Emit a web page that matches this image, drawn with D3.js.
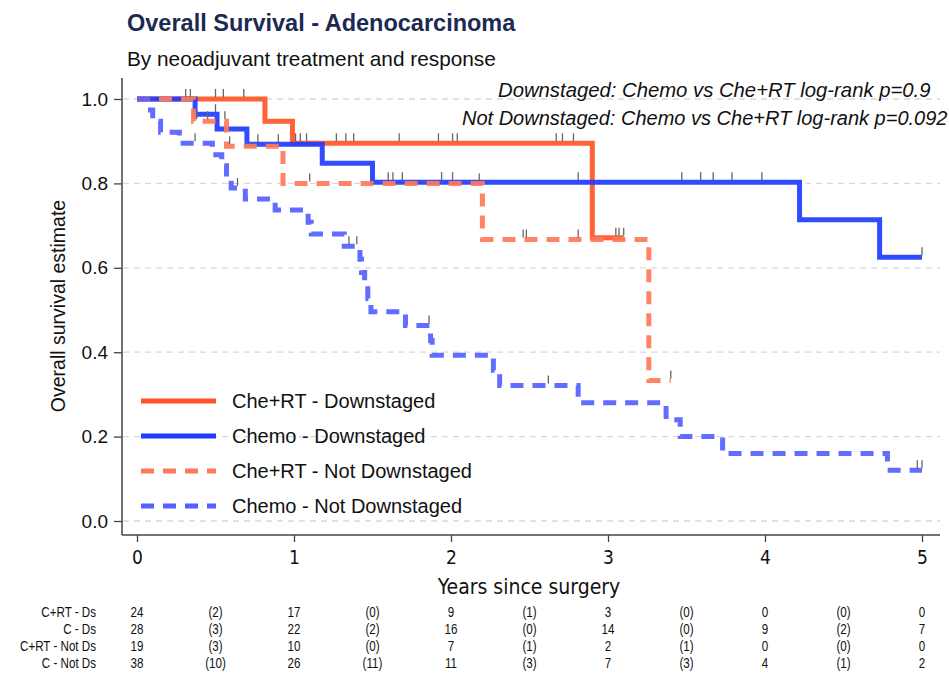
<!DOCTYPE html>
<html lang="en">
<head>
  <meta charset="utf-8">
  <title>Overall Survival - Adenocarcinoma</title>
  <script src="https://cdn.jsdelivr.net/npm/d3@7"></script>
  <style>
    body { margin: 0; background: #fff; }
    text { font-family: "Liberation Sans", Arial, Helvetica, sans-serif; fill: #111; }
    .narrow { font-family: "Liberation Sans Narrow", "Arial Narrow", "DejaVu Sans Condensed", sans-serif; }
  </style>
</head>
<body>
  <svg id="chart"></svg>
  <script>
    // Kaplan-Meier step data (time in years, survival estimate)
    var crtDsTimes = [0, 0.815, 0.99, 2.9];
    var crtDsSurv = [1, 0.947, 0.895, 0.671];
    var crtDsEnd = 3.1;
    var crtDsCensor = [0.31, 0.34, 0.50, 0.55, 0.68, 1.01, 1.04, 1.08, 1.27, 1.33, 1.38, 1.67, 1.92, 2.01, 2.04, 2.67, 2.71, 2.78, 3.05, 3.07, 3.10];

    var cDsTimes = [0, 0.37, 0.51, 0.70, 1.18, 1.50, 4.22, 4.73];
    var cDsSurv = [1, 0.964, 0.929, 0.893, 0.848, 0.803, 0.714, 0.625];
    var cDsEnd = 5.0;
    var cDsCensor = [0.50, 0.77, 0.90, 1.60, 1.63, 1.69, 1.94, 2.01, 2.81, 3.47, 3.59, 3.67, 3.79, 3.98, 5.0];

    var crtNdTimes = [0, 0.36, 0.57, 0.93, 2.2, 3.26];
    var crtNdSurv = [1, 0.947, 0.888, 0.80, 0.667, 0.333];
    var crtNdEnd = 3.4;
    var crtNdCensor = [0.38, 0.45, 0.56, 0.59, 1.10, 2.18, 2.46, 2.48, 2.81, 3.40];

    var cNdTimes = [0, 0.07, 0.10, 0.15, 0.27, 0.48, 0.54, 0.57, 0.60, 0.69, 0.88, 1.09, 1.11, 1.32, 1.42, 1.43, 1.45, 1.47, 1.49, 1.71, 1.87, 1.88, 2.27, 2.31, 2.81, 3.37, 3.46, 3.73, 4.78];
    var cNdSurv = [1, 0.974, 0.947, 0.921, 0.895, 0.868, 0.842, 0.816, 0.789, 0.763, 0.737, 0.708, 0.680, 0.651, 0.620, 0.589, 0.558, 0.527, 0.496, 0.463, 0.428, 0.393, 0.357, 0.321, 0.280, 0.240, 0.200, 0.160, 0.120];
    var cNdEnd = 5.0;
    var cNdCensor = [0.37, 0.64, 1.35, 1.40, 1.86, 2.62, 4.97, 5.0];

    var legendNames = ["Che+RT - Downstaged", "Chemo - Downstaged", "Che+RT - Not Downstaged", "Chemo - Not Downstaged"];

    // number at risk table
    var riskLabels = ["C+RT - Ds", "C - Ds", "C+RT - Not Ds", "C - Not Ds"];
    var riskYears = [0, 1, 2, 3, 4, 5];
    var atRisk = [
      [24, 17, 9, 3, 0, 0],
      [28, 22, 16, 14, 9, 7],
      [19, 10, 7, 2, 0, 0],
      [38, 26, 11, 7, 4, 2]
    ];
    var events = [
      [2, 0, 1, 0, 0],
      [3, 2, 0, 0, 2],
      [3, 0, 1, 1, 0],
      [10, 11, 3, 3, 1]
    ];

    var yTicks = [0, 0.2, 0.4, 0.6, 0.8, 1.0];
    var xTicks = [0, 1, 2, 3, 4, 5];

    var w = 949;
    var h = 676;

    var svg = d3.select("#chart")
      .attr("width", w)
      .attr("height", h);

    var x = d3.scaleLinear().domain([0, 5]).range([137, 922]);
    var y = d3.scaleLinear().domain([0, 1]).range([521, 99]);

    var series = [
      { times: crtDsTimes, surv: crtDsSurv, end: crtDsEnd, censor: crtDsCensor, color: "#ff5526", dash: null },
      { times: cDsTimes, surv: cDsSurv, end: cDsEnd, censor: cDsCensor, color: "#1f3cff", dash: null },
      { times: crtNdTimes, surv: crtNdSurv, end: crtNdEnd, censor: crtNdCensor, color: "#ff7a58", dash: "13,9" },
      { times: cNdTimes, surv: cNdSurv, end: cNdEnd, censor: cNdCensor, color: "#5560ff", dash: "13,9" }
    ];

    // titles
    svg.append("text")
      .attr("x", 127).attr("y", 31)
      .style("font-size", "23.5px").style("font-weight", "bold").style("fill", "#1c2a52")
      .text("Overall Survival - Adenocarcinoma");
    svg.append("text")
      .attr("x", 127).attr("y", 66)
      .style("font-size", "20.8px")
      .text("By neoadjuvant treatment and response");

    // grid lines
    svg.append("g").selectAll("line")
      .data(yTicks)
      .enter().append("line")
      .attr("x1", 123).attr("x2", 940)
      .attr("y1", function(d) { return y(d); })
      .attr("y2", function(d) { return y(d); })
      .attr("stroke", "#d9d9d9")
      .attr("stroke-width", 1.3)
      .attr("stroke-dasharray", "6,5");

    // y axis
    var yAxis = d3.axisLeft(y)
      .tickValues(yTicks)
      .tickFormat(d3.format(".1f"))
      .tickSize(8)
      .tickPadding(6);
    var gy = svg.append("g")
      .attr("transform", "translate(122,0)")
      .call(yAxis);
    gy.select(".domain").remove();
    gy.append("line").attr("x1", 0).attr("x2", 0).attr("y1", 78).attr("y2", 535)
      .attr("stroke", "#444").attr("stroke-width", 1.5);
    gy.selectAll(".tick line").attr("stroke", "#444").attr("stroke-width", 1.3);
    gy.selectAll(".tick text").style("font-size", "19px").style("font-family", "Liberation Sans, Arial, sans-serif").attr("fill", "#111");

    // x axis
    var xAxis = d3.axisBottom(x)
      .tickValues(xTicks)
      .tickFormat(d3.format("d"))
      .tickSize(7)
      .tickPadding(9);
    var gx = svg.append("g")
      .attr("transform", "translate(0,535)")
      .call(xAxis);
    gx.select(".domain").remove();
    gx.append("line").attr("x1", 122).attr("x2", 940).attr("y1", 0).attr("y2", 0)
      .attr("stroke", "#444").attr("stroke-width", 1.5);
    gx.selectAll(".tick line").attr("stroke", "#444").attr("stroke-width", 1.3);
    gx.selectAll(".tick text").attr("class", "narrow").style("font-size", "19px").attr("fill", "#111");

    // axis titles
    svg.append("text")
      .attr("class", "narrow")
      .attr("x", 529).attr("y", 594)
      .attr("text-anchor", "middle")
      .style("font-size", "21px")
      .text("Years since surgery");
    svg.append("text")
      .attr("transform", "translate(65,306) rotate(-90)")
      .attr("text-anchor", "middle")
      .style("font-size", "19.5px")
      .text("Overall survival estimate");

    // log-rank annotations
    svg.append("text")
      .attr("x", 498).attr("y", 97)
      .style("font-size", "20.3px").style("font-style", "italic")
      .text("Downstaged: Chemo vs Che+RT log-rank p=0.9");
    svg.append("text")
      .attr("x", 462).attr("y", 125)
      .style("font-size", "20px").style("font-style", "italic")
      .text("Not Downstaged: Chemo vs Che+RT log-rank p=0.092");

    // survival curves
    var line = d3.line()
      .x(function(d) { return x(d[0]); })
      .y(function(d) { return y(d[1]); })
      .curve(d3.curveStepAfter);

    series.forEach(function(s) {
      var pts = s.times.map(function(t, i) { return [t, s.surv[i]]; });
      pts.push([s.end, s.surv[s.surv.length - 1]]);
      svg.append("path")
        .datum(pts)
        .attr("d", line)
        .attr("fill", "none")
        .attr("stroke", s.color)
        .attr("stroke-width", 5)
        .attr("stroke-opacity", 0.92)
        .attr("stroke-dasharray", s.dash);
    });

    // censoring marks
    series.forEach(function(s) {
      svg.append("g").selectAll("line")
        .data(s.censor)
        .enter().append("line")
        .attr("x1", function(d) { return x(d); })
        .attr("x2", function(d) { return x(d); })
        .attr("y1", function(d) {
          var i = d3.bisectRight(s.times, d) - 1;
          return y(s.surv[i]) - 10;
        })
        .attr("y2", function(d) {
          var i = d3.bisectRight(s.times, d) - 1;
          return y(s.surv[i]) - 2;
        })
        .attr("stroke", "#666")
        .attr("stroke-width", 1.3);
    });

    // legend
    var legend = svg.append("g").selectAll("g")
      .data(legendNames)
      .enter().append("g")
      .attr("transform", function(d, i) { return "translate(0," + (401 + i * 35) + ")"; });
    legend.append("line")
      .attr("x1", 141).attr("x2", 216)
      .attr("stroke", function(d, i) { return series[i].color; })
      .attr("stroke-width", 5)
      .attr("stroke-dasharray", function(d, i) { return series[i].dash; });
    legend.append("text")
      .attr("x", 232).attr("y", 7)
      .style("font-size", "20px")
      .text(function(d) { return d; });

    // number at risk table (narrow text: horizontally squeezed)
    var rowY = [617, 634, 651, 668];
    var squeeze = 0.8;
    var table = svg.append("g");
    riskLabels.forEach(function(lab, r) {
      table.append("text")
        .attr("transform", "translate(96," + rowY[r] + ") scale(" + squeeze + ",1)")
        .attr("text-anchor", "end")
        .style("font-size", "14.5px")
        .text(lab);
      table.selectAll(null)
        .data(atRisk[r])
        .enter().append("text")
        .attr("transform", function(d, i) { return "translate(" + x(riskYears[i]) + "," + rowY[r] + ") scale(" + squeeze + ",1)"; })
        .attr("text-anchor", "middle")
        .style("font-size", "14.5px")
        .text(function(d) { return d; });
      table.selectAll(null)
        .data(events[r])
        .enter().append("text")
        .attr("transform", function(d, i) { return "translate(" + x(riskYears[i] + 0.5) + "," + rowY[r] + ") scale(" + squeeze + ",1)"; })
        .attr("text-anchor", "middle")
        .style("font-size", "14.5px")
        .text(function(d) { return "(" + d + ")"; });
    });
  </script>
</body>
</html>
